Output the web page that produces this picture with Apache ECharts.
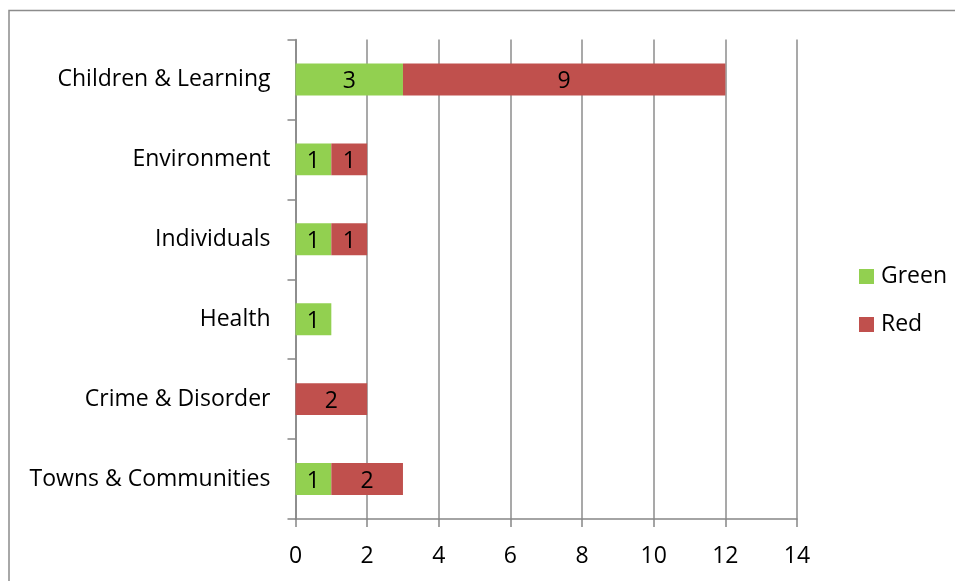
<!DOCTYPE html>
<html><head><meta charset="utf-8">
<script src="https://cdn.jsdelivr.net/npm/echarts@6/dist/echarts.min.js"></script>
<style>html,body{margin:0;padding:0;background:#fff}#c{width:955px;height:581px}</style>
</head><body><div id="c"></div>
<script>
const categories = ["Towns & Communities","Crime & Disorder","Health","Individuals","Environment","Children & Learning"];
const greenValues = [1, 0, 1, 1, 1, 3];
const redValues = [2, 2, 0, 1, 1, 9];
const xTicks = [0,2,4,6,8,10,12,14];

const FONT = 'Open Sans';
const FS = 23;
const chart = echarts.init(document.getElementById('c'), null, {renderer:'canvas'});
const lbl = {show:true, position:'inside', color:'#000', fontFamily:FONT, fontSize:FS, offset:[0,2],
  formatter: p => p.value ? String(p.value) : ''};
chart.setOption({
  animation:false,
  graphic:[{type:'rect', shape:{x:9, y:10.5, width:1000, height:1000},
    style:{fill:'none', stroke:'#8c8c8c', lineWidth:1.5}, z:-1}],
  grid:{left:295.5, right:158, top:39.5, bottom:62},
  legend:{orient:'vertical', left:854, top:260, itemWidth:15, itemHeight:15, itemGap:25,
    icon:'rect', textStyle:{fontFamily:FONT, fontSize:FS, color:'#000', padding:[0,0,0,2]},
    data:['Green','Red']},
  xAxis:{type:'value', min:0, max:14, interval:2,
    axisLine:{show:true, lineStyle:{color:'#868686', width:1.5}},
    axisTick:{show:true, length:8, lineStyle:{color:'#868686', width:1.5}},
    splitLine:{show:true, lineStyle:{color:'#8c8c8c', width:1.5}},
    axisLabel:{fontFamily:FONT, fontSize:FS, color:'#000', margin:26,
      formatter: v => xTicks.includes(v) ? String(v) : ''}},
  yAxis:{type:'category', data:categories,
    axisLine:{show:true, lineStyle:{color:'#868686', width:1.5}},
    axisTick:{show:true, length:8, lineStyle:{color:'#868686', width:1.5}},
    axisLabel:{fontFamily:FONT, fontSize:FS, color:'#000', margin:25, padding:[3,0,0,0]}},
  series:[
    {name:'Green', type:'bar', stack:'s', data:greenValues, barCategoryGap:'60%',
      itemStyle:{color:'#92D050'}, label:lbl},
    {name:'Red', type:'bar', stack:'s', data:redValues,
      itemStyle:{color:'#C0504D'}, label:lbl}
  ]
});
</script></body></html>
